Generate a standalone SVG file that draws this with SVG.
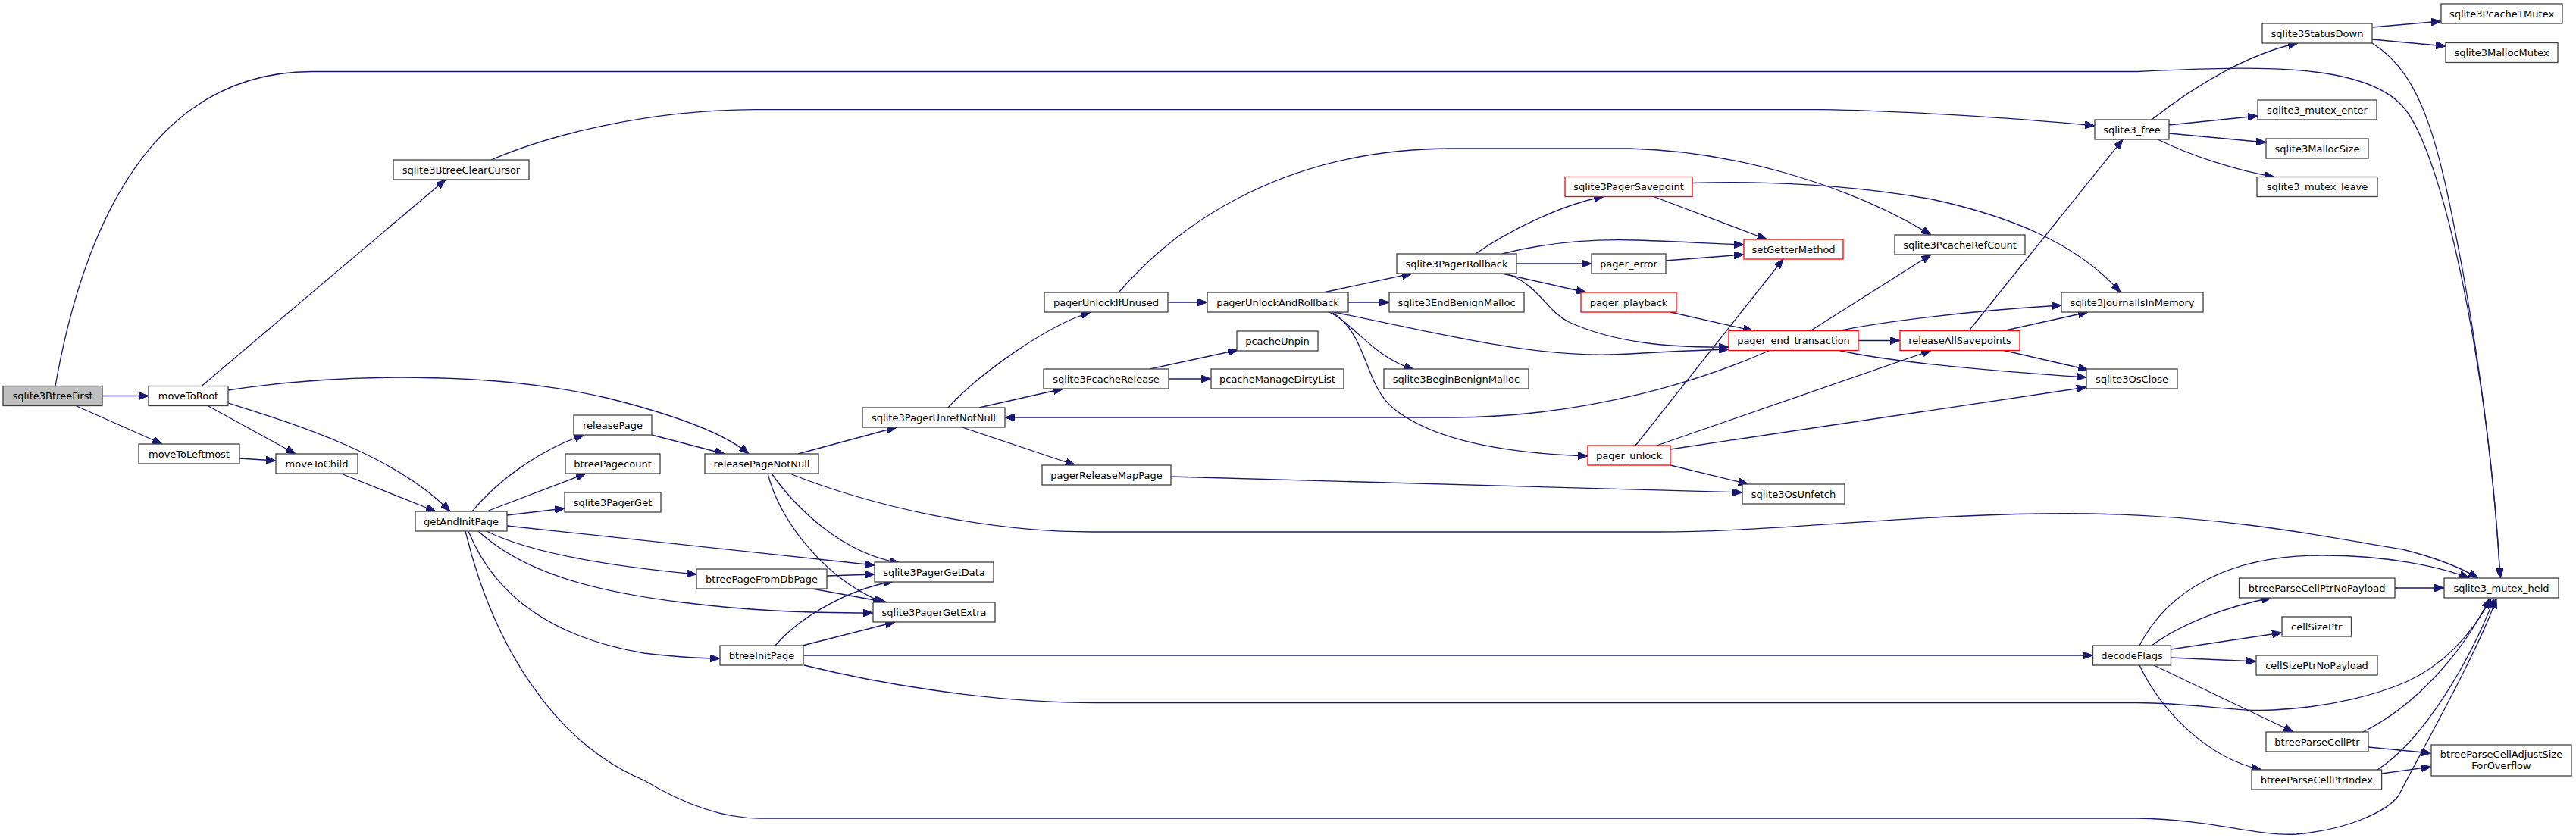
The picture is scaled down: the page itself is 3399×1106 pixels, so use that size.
<svg xmlns="http://www.w3.org/2000/svg" width="3399" height="1106" viewBox="0 0 3399 1106">
<style>
.node rect{fill:#ffffff;stroke:#404040;stroke-width:1.3}
.node.root rect{fill:#bfbfbf}
.node.red rect{stroke:#ff0000}
.node text{font-family:"DejaVu Sans","Liberation Sans",sans-serif;font-size:13px;fill:#000000;text-anchor:middle}
.edges path{fill:none;stroke:#191970;stroke-width:1.3;marker-end:url(#ah)}
</style>
<defs>
<marker id="ah" viewBox="0 0 13 10" refX="13" refY="5" markerWidth="13" markerHeight="10" markerUnits="userSpaceOnUse" orient="auto"><path d="M0,0L13,5L0,10z" fill="#191970" stroke="#191970" stroke-width="1"/></marker>
</defs>
<rect width="3399" height="1106" fill="#ffffff"/>
<g class="edges">
<path d="M135,522.5L196,522.5"/>
<path d="M100,535.5L214,586"/>
<path d="M73,509.5C110,300 200,94.5 412,94.5L2820,94.5C2990,86 3120,85 3170,140C3225,200 3285,500 3299,763"/>
<path d="M266,509.5L588,237"/>
<path d="M274,535.5L390,599"/>
<path d="M301,532C390,560 520,600 594,675"/>
<path d="M301,515C450,492 650,490 800,525C900,550 960,575 988,599"/>
<path d="M316,605L364,608"/>
<path d="M450,625L575,675"/>
<path d="M648,211C720,180 850,145 996,144.6L2405,144.6C2500,146 2650,155 2764,166"/>
<path d="M623,675C660,630 720,590 771,574"/>
<path d="M642,675L773,625"/>
<path d="M669,680L745,671"/>
<path d="M669,694L1154,746"/>
<path d="M642,701C690,725 780,745 919,758"/>
<path d="M631,701C690,755 780,780 900,795C980,805 1050,809 1152,809"/>
<path d="M618,701C650,780 720,840 850,862C900,868 930,869 950,869"/>
<path d="M614,701C650,850 730,980 850,1030C900,1060 950,1080 1002,1080L2820,1080C2920,1082 2980,1104 3030,1101C3100,1095 3150,1070 3165,1050C3190,1000 3270,860 3294,790"/>
<path d="M860,574L956,599"/>
<path d="M1053,599L1183,564"/>
<path d="M1018,625C1050,670 1110,730 1187,743"/>
<path d="M1013,625C1030,690 1090,765 1165,795"/>
<path d="M1042,625C1150,668 1300,702 1441,702L2188,702C2350,702 2550,675 2760,678C2960,682 3100,715 3170,725C3210,735 3245,748 3270,763"/>
<path d="M1091,760L1154,758"/>
<path d="M1072,777L1170,795"/>
<path d="M1023,852C1050,820 1110,780 1179,767"/>
<path d="M1059,852L1181,821"/>
<path d="M1060,865L2761.5,865"/>
<path d="M1061,878C1150,900 1300,927.5 1446,927.5L2820,927.5C2900,928 2950,940 3000,937C3080,933 3140,915 3175,900C3230,875 3265,830 3287,790"/>
<path d="M1251,538C1290,495 1380,430 1439,412"/>
<path d="M1292,538L1403,513"/>
<path d="M1270,564L1419,614"/>
<path d="M1541,399L1593,399"/>
<path d="M1476,386C1560,290 1700,196 1917,196L2150,196C2300,200 2450,250 2548,310"/>
<path d="M1517,487L1633,462"/>
<path d="M1542,500L1598,500"/>
<path d="M1545,629L2299,650"/>
<path d="M1746,386L1863,361"/>
<path d="M1779,399L1833,399"/>
<path d="M1760,412C1900,440 2030,475 2150,467C2200,464 2250,462 2281,461"/>
<path d="M1754,412C1790,430 1810,470 1866,488"/>
<path d="M1757,412C1805,440 1800,510 1840,540C1890,580 1980,598 2095,602"/>
<path d="M1947,335C1990,305 2060,270 2116,259.5"/>
<path d="M1982,335C2040,320 2100,315 2160,317C2220,319 2270,322 2301,323"/>
<path d="M2001,348L2100,348"/>
<path d="M1982,361L2093,386"/>
<path d="M1987,361C2030,375 2040,410 2070,425C2130,452 2200,459 2281,458"/>
<path d="M2198,344L2301,336"/>
<path d="M2182,259.5L2331.5,316"/>
<path d="M2233,241.5C2330,238 2450,245 2549,263C2650,285 2740,320 2798,386"/>
<path d="M2204,412L2313,436.5"/>
<path d="M2389,436.5L2548,336"/>
<path d="M2452,449.5L2507,449.5"/>
<path d="M2427,436.5C2480,425 2600,410 2720,403"/>
<path d="M2427,462.5C2480,475 2600,488 2753,498"/>
<path d="M2335,462.5C2250,500 2100,550 1917,551L1326,551"/>
<path d="M2158,588L2353,342"/>
<path d="M2186,588L2548,462.5"/>
<path d="M2204,593L2753,511"/>
<path d="M2204,614L2307,639"/>
<path d="M2598,436.5L2801,184"/>
<path d="M2644,436.5L2755,412"/>
<path d="M2644,462.5L2755,488"/>
<path d="M2839,158C2900,110 2970,70 3032,57"/>
<path d="M2862,165L2979,153"/>
<path d="M2862,176L2990,188"/>
<path d="M2847,184C2890,205 2950,225 3001,233.5"/>
<path d="M3130,36L3221,28"/>
<path d="M3130,52L3227,61"/>
<path d="M3130,57C3200,100 3220,200 3250,360C3275,500 3292,640 3299,763"/>
<path d="M2839,852C2880,822 2940,800 2997,789"/>
<path d="M2864.5,857L3011,835"/>
<path d="M2864.5,868L2977,873"/>
<path d="M2842,878L3026,966"/>
<path d="M2823,878C2850,935 2910,1000 2984,1016"/>
<path d="M2823,852C2860,780 2940,733 3064,733C3150,733 3220,748 3258,763"/>
<path d="M3160,776L3225,776"/>
<path d="M3118,966C3190,930 3250,860 3285,790"/>
<path d="M3125,986L3208,994"/>
<path d="M3137,1016C3200,975 3260,870 3291,790"/>
<path d="M3142.6,1021L3208,1012"/>
</g>
<g id="n_sqlite3BtreeFirst" class="node root"><rect x="4" y="509.5" width="131" height="26"/><text x="69.5" y="527">sqlite3BtreeFirst</text></g>
<g id="n_moveToRoot" class="node"><rect x="196" y="509.5" width="105" height="26"/><text x="248.5" y="527">moveToRoot</text></g>
<g id="n_sqlite3BtreeClearCursor" class="node"><rect x="519" y="211" width="179" height="26"/><text x="608.5" y="228.5">sqlite3BtreeClearCursor</text></g>
<g id="n_moveToLeftmost" class="node"><rect x="183" y="586" width="133" height="26"/><text x="249.5" y="603.5">moveToLeftmost</text></g>
<g id="n_moveToChild" class="node"><rect x="364" y="599" width="108" height="26"/><text x="418" y="616.5">moveToChild</text></g>
<g id="n_getAndInitPage" class="node"><rect x="548" y="675" width="121" height="26"/><text x="608.5" y="692.5">getAndInitPage</text></g>
<g id="n_releasePage" class="node"><rect x="757" y="548" width="103" height="26"/><text x="808.5" y="565.5">releasePage</text></g>
<g id="n_btreePagecount" class="node"><rect x="746" y="599" width="125" height="26"/><text x="808.5" y="616.5">btreePagecount</text></g>
<g id="n_sqlite3PagerGet" class="node"><rect x="745" y="650" width="127" height="26"/><text x="808.5" y="667.5">sqlite3PagerGet</text></g>
<g id="n_releasePageNotNull" class="node"><rect x="930" y="599" width="150" height="26"/><text x="1005" y="616.5">releasePageNotNull</text></g>
<g id="n_btreePageFromDbPage" class="node"><rect x="919" y="751" width="172" height="26"/><text x="1005" y="768.5">btreePageFromDbPage</text></g>
<g id="n_sqlite3PagerGetData" class="node"><rect x="1154" y="742" width="157" height="26"/><text x="1232.5" y="759.5">sqlite3PagerGetData</text></g>
<g id="n_sqlite3PagerGetExtra" class="node"><rect x="1152" y="795" width="161" height="26"/><text x="1232.5" y="812.5">sqlite3PagerGetExtra</text></g>
<g id="n_btreeInitPage" class="node"><rect x="950" y="852" width="110" height="26"/><text x="1005" y="869.5">btreeInitPage</text></g>
<g id="n_sqlite3PagerUnrefNotNull" class="node"><rect x="1138" y="538" width="188" height="26"/><text x="1232" y="555.5">sqlite3PagerUnrefNotNull</text></g>
<g id="n_pagerUnlockIfUnused" class="node"><rect x="1378" y="386" width="163" height="26"/><text x="1459.5" y="403.5">pagerUnlockIfUnused</text></g>
<g id="n_sqlite3PcacheRelease" class="node"><rect x="1377" y="487" width="165" height="26"/><text x="1459.5" y="504.5">sqlite3PcacheRelease</text></g>
<g id="n_pagerReleaseMapPage" class="node"><rect x="1375" y="614" width="170" height="26"/><text x="1460" y="631.5">pagerReleaseMapPage</text></g>
<g id="n_pcacheUnpin" class="node"><rect x="1632" y="437" width="107" height="26"/><text x="1685.5" y="454.5">pcacheUnpin</text></g>
<g id="n_pcacheManageDirtyList" class="node"><rect x="1598" y="487" width="175" height="26"/><text x="1685.5" y="504.5">pcacheManageDirtyList</text></g>
<g id="n_pagerUnlockAndRollback" class="node"><rect x="1593" y="386" width="186" height="26"/><text x="1686" y="403.5">pagerUnlockAndRollback</text></g>
<g id="n_sqlite3PagerRollback" class="node"><rect x="1843" y="335" width="158" height="26"/><text x="1922" y="352.5">sqlite3PagerRollback</text></g>
<g id="n_sqlite3EndBenignMalloc" class="node"><rect x="1833" y="386" width="178" height="26"/><text x="1922" y="403.5">sqlite3EndBenignMalloc</text></g>
<g id="n_sqlite3BeginBenignMalloc" class="node"><rect x="1826" y="487" width="191" height="26"/><text x="1921.5" y="504.5">sqlite3BeginBenignMalloc</text></g>
<g id="n_sqlite3PagerSavepoint" class="node red"><rect x="2065" y="233.5" width="168" height="26"/><text x="2149" y="251">sqlite3PagerSavepoint</text></g>
<g id="n_pager_error" class="node"><rect x="2100" y="335" width="98" height="26"/><text x="2149" y="352.5">pager_error</text></g>
<g id="n_pager_playback" class="node red"><rect x="2086" y="386" width="126" height="26"/><text x="2149" y="403.5">pager_playback</text></g>
<g id="n_setGetterMethod" class="node red"><rect x="2301" y="316" width="131" height="26"/><text x="2366.5" y="333.5">setGetterMethod</text></g>
<g id="n_pager_end_transaction" class="node red"><rect x="2281" y="436.5" width="171" height="26"/><text x="2366.5" y="454">pager_end_transaction</text></g>
<g id="n_pager_unlock" class="node red"><rect x="2095" y="588" width="109" height="26"/><text x="2149.5" y="605.5">pager_unlock</text></g>
<g id="n_sqlite3PcacheRefCount" class="node"><rect x="2500" y="310" width="172" height="26"/><text x="2586" y="327.5">sqlite3PcacheRefCount</text></g>
<g id="n_releaseAllSavepoints" class="node red"><rect x="2507" y="436.5" width="158" height="26"/><text x="2586" y="454">releaseAllSavepoints</text></g>
<g id="n_sqlite3OsUnfetch" class="node"><rect x="2299" y="639" width="135" height="26"/><text x="2366.5" y="656.5">sqlite3OsUnfetch</text></g>
<g id="n_sqlite3JournalIsInMemory" class="node"><rect x="2720" y="386" width="187" height="26"/><text x="2813.5" y="403.5">sqlite3JournalIsInMemory</text></g>
<g id="n_sqlite3OsClose" class="node"><rect x="2753" y="487" width="120" height="26"/><text x="2813" y="504.5">sqlite3OsClose</text></g>
<g id="n_sqlite3_free" class="node"><rect x="2764" y="158" width="98" height="26"/><text x="2813" y="175.5">sqlite3_free</text></g>
<g id="n_sqlite3StatusDown" class="node"><rect x="2985" y="31" width="145" height="26"/><text x="3057.5" y="48.5">sqlite3StatusDown</text></g>
<g id="n_sqlite3Pcache1Mutex" class="node"><rect x="3221" y="5" width="160" height="26"/><text x="3301" y="22.5">sqlite3Pcache1Mutex</text></g>
<g id="n_sqlite3MallocMutex" class="node"><rect x="3227" y="56.5" width="148" height="26"/><text x="3301" y="74">sqlite3MallocMutex</text></g>
<g id="n_sqlite3_mutex_enter" class="node"><rect x="2979" y="132" width="157" height="26"/><text x="3057.5" y="149.5">sqlite3_mutex_enter</text></g>
<g id="n_sqlite3MallocSize" class="node"><rect x="2990" y="183" width="135" height="26"/><text x="3057.5" y="200.5">sqlite3MallocSize</text></g>
<g id="n_sqlite3_mutex_leave" class="node"><rect x="2978" y="233.5" width="159" height="26"/><text x="3057.5" y="251">sqlite3_mutex_leave</text></g>
<g id="n_sqlite3_mutex_held" class="node"><rect x="3225" y="763" width="151" height="26"/><text x="3300.5" y="780.5">sqlite3_mutex_held</text></g>
<g id="n_decodeFlags" class="node"><rect x="2761.5" y="852" width="103" height="26"/><text x="2813" y="869.5">decodeFlags</text></g>
<g id="n_btreeParseCellPtrNoPayload" class="node"><rect x="2954.5" y="763" width="205.5" height="26"/><text x="3057.2" y="780.5">btreeParseCellPtrNoPayload</text></g>
<g id="n_cellSizePtr" class="node"><rect x="3011" y="814" width="91.5" height="26"/><text x="3056.7" y="831.5">cellSizePtr</text></g>
<g id="n_cellSizePtrNoPayload" class="node"><rect x="2977" y="865" width="160" height="26"/><text x="3057" y="882.5">cellSizePtrNoPayload</text></g>
<g id="n_btreeParseCellPtr" class="node"><rect x="2990" y="966" width="135" height="26"/><text x="3057.5" y="983.5">btreeParseCellPtr</text></g>
<g id="n_btreeParseCellPtrIndex" class="node"><rect x="2971" y="1016" width="171.6" height="26"/><text x="3056.8" y="1033.5">btreeParseCellPtrIndex</text></g>
<g id="n_btreeParseCellAdjustSizeForOverflow" class="node"><rect x="3208" y="983" width="185" height="41"/><text x="3300.5" y="999.5">btreeParseCellAdjustSize</text><text x="3300.5" y="1014.5">ForOverflow</text></g>
</svg>
